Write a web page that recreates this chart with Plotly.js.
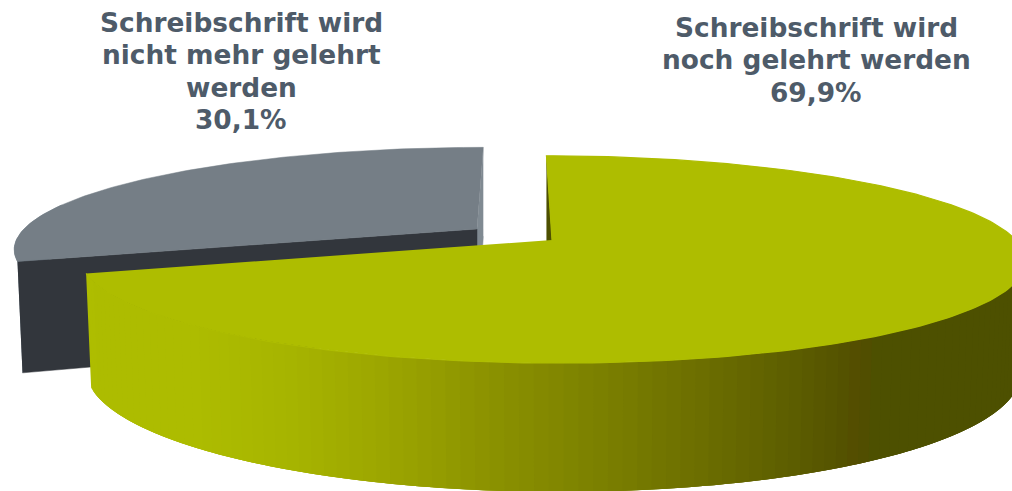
<!DOCTYPE html>
<html>
<head>
<meta charset="utf-8">
<script src="https://cdn.plot.ly/plotly-3.0.1.min.js"></script>
<style>html,body{margin:0;padding:0;background:#fff;overflow:hidden}#c{width:1012px;height:491px}</style>
</head>
<body>
<div id="c"></div>
<script>
// ---- data ----
const categories = ['Schreibschrift wird noch gelehrt werden', 'Schreibschrift wird nicht mehr gelehrt werden'];
const values = [69.9, 30.1];
const labelLines = [
  ['Schreibschrift wird', 'noch gelehrt werden', '69,9%'],
  ['Schreibschrift wird', 'nicht mehr gelehrt', 'werden', '30,1%']
];

// ---- projection of the tilted, exploded disc ----
const W = 1012, H = 491;
const vanishX = 517, K = 0.188;
const GREEN = {ax: 552, top: {y: 240, R: 464, h: 100}, bot: {y: 349, R: 459, h: 116}};
const GREY  = {ax: 477, top: {y: 229, R: 453, h: 97},  bot: {y: 334, R: 448, h: 116}};
const C = {
  green: '#aebd00', grey: '#757e86', greyFace: '#32363c',
  greyInner: '#808a92', greyOuter: '#6f7c87', greenInner: '#4d5000', text: '#4e5b69'
};
const shadeStops = [
  [0, [174,189,0]], [200, [173,188,0]], [300, [166,179,0]], [400, [154,163,0]], [500, [138,144,0]],
  [600, [123,128,0]], [700, [108,110,0]], [800, [91,92,0]], [840, [84,82,0]], [858, [84,76,0]],
  [872, [77,80,0]], [1100, [77,80,0]]
];
function shade(x) {
  for (let i = 1; i < shadeStops.length; i++) {
    const a = shadeStops[i - 1], b = shadeStops[i];
    if (x <= b[0]) {
      const t = (x - a[0]) / (b[0] - a[0]);
      return 'rgb(' + a[1].map((c, j) => Math.round(c + (b[1][j] - c) * t)).join(',') + ')';
    }
  }
  return 'rgb(77,80,0)';
}
function proj(s, disc, deg) {
  const r = deg * Math.PI / 180, u = Math.sin(r), v = -Math.cos(r);
  const p = 1 / (1 - K * v);
  return [vanishX + (s.ax - vanishX + disc.R * u) * p, disc.y + disc.h * v * p];
}
function apex(s, disc) { return [s.ax, disc.y]; }
function arc(s, disc, a, b) {
  const n = Math.max(2, Math.ceil(Math.abs(b - a)));
  const pts = [];
  for (let i = 0; i <= n; i++) pts.push(proj(s, disc, a + (b - a) * i / n));
  return pts;
}
const traces = [];
function poly(pts, color, name, bare, lw) {
  traces.push({
    type: 'scatter', mode: bare ? 'none' : 'lines', fill: 'toself', fillcolor: color,
    x: pts.map(p => p[0]), y: pts.map(p => p[1]),
    line: {color: color, width: lw === undefined ? 0.5 : lw},
    name: name, hoverinfo: 'skip', showlegend: false
  });
}

const total = values.reduce((a, b) => a + b, 0);
const split = 360 * values[0] / total;

// grey slice
poly(arc(GREY, GREY.top, split, 285).concat([proj(GREY, GREY.bot, split)]), C.greyOuter, categories[1]);
poly([proj(GREY, GREY.top, 360), apex(GREY, GREY.top), apex(GREY, GREY.bot), proj(GREY, GREY.bot, 360)], C.greyInner, categories[1]);
poly([proj(GREY, GREY.top, split), apex(GREY, GREY.top), apex(GREY, GREY.bot), proj(GREY, GREY.bot, split)], C.greyFace, categories[1]);
poly([apex(GREY, GREY.top)].concat(arc(GREY, GREY.top, split, 360)), C.grey, categories[1]);

// green slice: inner face, then the shaded outer wall drawn left to right with overlapping bands
poly([proj(GREEN, GREEN.top, 0), apex(GREEN, GREEN.top), apex(GREEN, GREEN.bot), proj(GREEN, GREEN.bot, 0)], C.greenInner, categories[0]);
const step = 1.5, wallEnd = 100;
for (let d = split; d > wallEnd; d -= step) {
  const a = Math.max(d - step * 3, wallEnd);
  const m = proj(GREEN, GREEN.bot, d - step / 2)[0];
  poly(arc(GREEN, GREEN.top, d, a).concat(arc(GREEN, GREEN.bot, a, d)), shade(m), categories[0], true);
}
poly([apex(GREEN, GREEN.top)].concat(arc(GREEN, GREEN.top, 0, split)), C.green, categories[0], false, 1.2);

// labels
const labelPos = [
  {x: 816, ys: [27, 59, 92]},
  {x: 241, ys: [22, 54, 87, 119]}
];
const annotations = [];
labelLines.forEach((lines, i) => lines.forEach((t, j) => annotations.push({
  xref: 'x', yref: 'y', x: labelPos[i].x, y: labelPos[i].ys[j], text: '<b>' + t + '</b>',
  showarrow: false, xanchor: 'center', yanchor: 'middle',
  font: {family: 'DejaVu Sans, Verdana, sans-serif', size: 26.4, color: C.text}
})));

Plotly.newPlot('c', traces, {
  width: W, height: H, margin: {l: 0, r: 0, t: 0, b: 0},
  paper_bgcolor: '#ffffff', plot_bgcolor: '#ffffff', showlegend: false,
  xaxis: {range: [0, W], visible: false, fixedrange: true},
  yaxis: {range: [H, 0], visible: false, fixedrange: true},
  annotations: annotations
}, {displayModeBar: false, staticPlot: true});
</script>
</body>
</html>
